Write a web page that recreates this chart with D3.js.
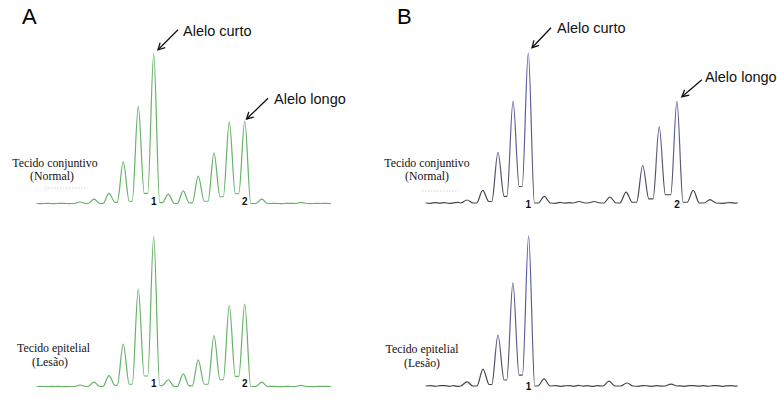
<!DOCTYPE html>
<html><head><meta charset="utf-8">
<script src="https://cdn.jsdelivr.net/npm/d3@7"></script>
<style>body{margin:0;background:#fff}svg{display:block}</style>
</head><body><svg id="c" width="777" height="400"></svg>
<script>
// ================= DATA =================
const panelLabels = ["A", "B"];
const sampleLabels = [["Tecido conjuntivo", "(Normal)"], ["Tecido epitelial", "(Lesão)"]];
const alleleNames = ["Alelo curto", "Alelo longo"];
const alleleNumbers = ["1", "2"];

// trace extent (migration units)
const spanA = [0.2, 19.8];
const spanB = [1.36, 21.6];

// peaks: [position (units), height (% of tallest)]
const peaksA_normal = [[3.07,1],[4.0,2.9],[5.0,6.7],[5.95,27.7],[6.95,65],[7.98,100],[8.95,6.2],[9.95,8.4],[10.95,18.2],[12.0,33.7],[13.02,54.4],[14.05,55],[15.18,2.9],[17.8,0.7]];
const valleysA_normal = [0,0,0.8,1.5,6.7,0.6,0,0.4,1.5,4.5,6.5,0,0];
const peaksA_lesion = [[3.07,1],[4.0,2.9],[5.0,7.3],[5.95,28.3],[6.95,65],[7.98,100],[8.95,4.5],[9.95,8.4],[10.95,17.8],[12.0,34],[13.02,54],[14.05,55],[15.18,2.9],[17.8,0.7]];
const valleysA_lesion = [0,0,0.8,1.5,7,0.6,0,0.4,1.5,4.5,6.8,0,0];

const peaksB_normal = [[4.02,2],[5.04,8.4],[6.03,33.7],[7.01,68],[8.0,100],[9.04,4.4],[11.3,1],[12.27,1],[13.3,4],[14.35,7.3],[15.43,25],[16.5,50.7],[17.65,67.7],[18.71,8.4],[19.8,2.2]];
const valleysB_normal = [0,1,4.4,11,0,0,0,0,0,0.5,2.7,5.5,0.5,0];
const peaksB_lesion = [[4.02,2.7],[5.06,11.3],[6.03,34],[7.0,68.7],[8.02,100],[9.02,4.7],[13.24,3.3],[14.4,2],[17.27,1.3]];
const valleysB_lesion = [0,1,4,7.3,0,0,0,0];

// baseline noise (read approximately), one value every 0.3 units from trace start
const noiseA_normal = [0.1,-0.1,0.1,0,-0.1,0.1,0.1,-0.1,0,0.1,-0.1,0.1,0,0.1,-0.1,0,0.1,0.1,-0.1,0,0.1,-0.1,0.1,0,0.1,-0.1,0,0.1,-0.1,0.1,0,0.1,-0.1,0.1,0,-0.1,0.1,0,0.1,-0.1,0.1,0,-0.1,0.1,0.1,0,-0.1,0.1,0,0.1,-0.1,0.1,0,0.1,-0.1,0,0.1,0.1,-0.1,0,0.1,-0.1,0.1,0,0.1];
const noiseA_lesion = [0,0.1,-0.1,0.1,0,0.1,-0.1,0,0.1,-0.1,0.1,0,0.1,-0.1,0.1,0,0.1,-0.1,0,0.1,0.1,-0.1,0,0.1,-0.1,0.1,0,0.1,-0.1,0,0.1,0.1,-0.1,0,0.1,-0.1,0.1,0,0.1,-0.1,0,0.1,0.1,-0.1,0,0.1,-0.1,0.1,0,0.1,-0.1,0,0.1,0.1,-0.1,0,0.1,-0.1,0.1,0,0.1,-0.1,0,0.1,0.1];
const noiseB_normal = [0.2,-0.2,0.3,-0.1,0.3,-0.3,0.1,0.4,-0.2,0.2,-0.3,0.2,0.5,-0.1,0.3,-0.2,0.1,0.3,-0.2,0.2,-0.3,0.2,0.4,-0.1,0.2,-0.3,0.1,0.3,-0.2,0.4,-0.1,0.2,-0.3,0.2,0.3,-0.2,0.1,0.3,-0.2,0.2,-0.1,0.3,-0.2,0.2,0.3,-0.3,0.1,0.4,-0.2,0.2,-0.1,0.3,-0.2,0.2,0.4,-0.2,0.2,-0.3,0.3,-0.1,0.2,0.4,-0.2,0.3,-0.2,0.1,0.3,-0.1];
const noiseB_lesion = [-0.1,0.3,-0.2,0.2,0.3,-0.2,0.2,-0.3,0.1,0.4,-0.1,0.2,-0.2,0.3,0.1,-0.3,0.3,-0.1,0.2,-0.2,0.3,0.4,-0.2,0.1,-0.3,0.2,0.2,-0.1,0.3,-0.2,0.1,0.3,-0.2,0.4,-0.1,0.2,-0.3,0.2,0.3,-0.2,0.1,0.5,-0.2,0.2,-0.1,0.3,-0.2,0.3,0.1,-0.2,0.3,-0.1,0.2,0.4,-0.2,0.1,-0.2,0.3,0.2,-0.1,0.3,-0.2,0.2,0.3,-0.2,0.1,0.2,-0.1];

// allele calls: [peak position, number label index]
const callsA_normal = [[7.98,0],[14.05,1]];
const callsA_lesion = [[7.98,0],[14.05,1]];
const callsB_normal = [[8.0,0],[17.65,1]];
const callsB_lesion = [[8.02,0]];

// ================= LAYOUT / STYLE =================
const svg = d3.select("#c");
const defs = svg.append("defs");
const HALF = 0.4;       // half base width of a peak (units)
const NOISE_STEP = 0.3;
const PEAK_PX = 150;    // pixel height of 100%

const xA = d3.scaleLinear().domain([0, 20]).range([34, 334]);
const xB = d3.scaleLinear().domain([0, 22]).range([405.1, 405.1 + 22 * 15.4]);

const traces = [
  {peaks: peaksA_normal, valleys: valleysA_normal, noise: noiseA_normal, span: spanA, x: xA, base: 203.5, kind: "A", calls: callsA_normal, numDy: 1.2,
   label: sampleLabels[0], lab: [[55,167],[52,179.5]], dots: [45,87,188], ann: true},
  {peaks: peaksA_lesion, valleys: valleysA_lesion, noise: noiseA_lesion, span: spanA, x: xA, base: 386.5, kind: "A", calls: callsA_lesion, numDy: 0.8,
   label: sampleLabels[1], lab: [[53.5,352],[50,366]], dots: null, ann: false},
  {peaks: peaksB_normal, valleys: valleysB_normal, noise: noiseB_normal, span: spanB, x: xB, base: 203, kind: "B", calls: callsB_normal, numDy: 5,
   label: sampleLabels[0], lab: [[427,167],[427,180]], dots: [422,457,191], ann: true},
  {peaks: peaksB_lesion, valleys: valleysB_lesion, noise: noiseB_lesion, span: spanB, x: xB, base: 386, kind: "B", calls: callsB_lesion, numDy: 4,
   label: sampleLabels[1], lab: [[422,353],[422,367]], dots: null, ann: false}
];

// annotation offsets relative to the peak apex: tip, tail, text
const annLayout = {
  A: [{tip:[4.3,-3.7], tail:[24.3,-23.7], text:[29.3,-17.7]}, {tip:[1.8,-2], tail:[23.3,-22.7], text:[29.3,-16.7]}],
  B: [{tip:[3.7,-5.3], tail:[22.7,-25.3], text:[28.7,-20.3]}, {tip:[5,-4.7], tail:[25,-21.7], text:[28,-19.7]}]
};

// panel letters
svg.append("text").attr("x", 22).attr("y", 24).text(panelLabels[0])
  .attr("font-family", "Liberation Sans, Arial, sans-serif").attr("font-size", 22).attr("fill", "#000");
svg.append("text").attr("x", 397).attr("y", 24).text(panelLabels[1])
  .attr("font-family", "Liberation Sans, Arial, sans-serif").attr("font-size", 22).attr("fill", "#000");

function buildPoints(t) {
  const pts = [];
  const n = t.peaks.length;
  t.peaks.forEach(([p, h], i) => {
    const vl = i > 0 ? t.valleys[i - 1] : 0;
    const vr = i < n - 1 ? t.valleys[i] : 0;
    pts.push([p - HALF, vl], [p, h], [p + HALF, vr]);
  });
  t.noise.forEach((v, j) => {
    const xx = t.span[0] + j * NOISE_STEP;
    if (xx > t.span[1]) return;
    for (let i = 0; i < n; i++) {
      const p = t.peaks[i][0];
      if (Math.abs(xx - p) < HALF + 0.1) return;
      if (i < n - 1 && t.valleys[i] >= 0.5 && xx > p && xx < t.peaks[i + 1][0]) return;
    }
    pts.push([xx, v]);
  });
  pts.push([t.span[0], 0], [t.span[1], 0]);
  pts.sort((a, b) => a[0] - b[0]);
  return pts;
}

traces.forEach((t, k) => {
  const y = d3.scaleLinear().domain([0, 100]).range([t.base, t.base - PEAK_PX]);
  let stroke;
  if (t.kind === "A") {
    stroke = "#66b266";
  } else {
    const gid = "g" + k;
    const g = defs.append("linearGradient").attr("id", gid)
      .attr("gradientUnits", "userSpaceOnUse").attr("x1", 0).attr("x2", 0)
      .attr("y1", t.base - PEAK_PX).attr("y2", t.base);
    g.append("stop").attr("offset", 0).attr("stop-color", "#5a5ab4");
    g.append("stop").attr("offset", 0.7).attr("stop-color", "#60608a");
    g.append("stop").attr("offset", 0.95).attr("stop-color", "#44444f");
    g.append("stop").attr("offset", 1).attr("stop-color", "#44444f");
    stroke = `url(#${gid})`;
  }
  const line = d3.line().x(d => t.x(d[0])).y(d => y(d[1])).curve(d3.curveMonotoneX);
  svg.append("path").datum(buildPoints(t)).attr("d", line)
    .attr("fill", "none").attr("stroke", stroke).attr("stroke-width", 1.2).attr("stroke-linejoin", "round");

  // allele numbers
  t.calls.forEach(([p, ni]) => {
    svg.append("text").attr("x", t.x(p)).attr("y", t.base + t.numDy)
      .attr("text-anchor", "middle").attr("font-family", "Liberation Sans, Arial, sans-serif")
      .attr("font-weight", "bold").attr("font-size", 10).attr("fill", "#111").text(alleleNumbers[ni]);
  });

  // sample label
  t.label.forEach((s, i) => {
    svg.append("text").attr("x", t.lab[i][0]).attr("y", t.lab[i][1]).attr("text-anchor", "middle")
      .attr("font-family", "Liberation Serif, Times New Roman, serif").attr("font-size", 11.8)
      .attr("fill", "#111").text(s);
  });
  if (t.dots) {
    svg.append("line").attr("x1", t.dots[0]).attr("x2", t.dots[1]).attr("y1", t.dots[2]).attr("y2", t.dots[2])
      .attr("stroke", "#c8c8c8").attr("stroke-width", 0.8).attr("stroke-dasharray", "1.5,1.5");
  }

  // allele annotations with arrows
  if (t.ann) {
    t.calls.forEach(([p, ni], ai) => {
      const h = t.peaks.find(d => d[0] === p)[1];
      const ax = t.x(p), ay = y(h);
      const L = annLayout[t.kind][ai];
      const tip = [ax + L.tip[0], ay + L.tip[1]];
      const tail = [ax + L.tail[0], ay + L.tail[1]];
      svg.append("line").attr("x1", tail[0]).attr("y1", tail[1]).attr("x2", tip[0]).attr("y2", tip[1])
        .attr("stroke", "#111").attr("stroke-width", 1.3);
      const ang = Math.atan2(tail[1] - tip[1], tail[0] - tip[0]);
      const arm = 7.5, spread = 0.5;
      const head = [[tip[0] + arm * Math.cos(ang - spread), tip[1] + arm * Math.sin(ang - spread)], tip,
                    [tip[0] + arm * Math.cos(ang + spread), tip[1] + arm * Math.sin(ang + spread)]];
      svg.append("path").attr("d", d3.line()(head)).attr("fill", "none")
        .attr("stroke", "#111").attr("stroke-width", 1.3);
      svg.append("text").attr("x", ax + L.text[0]).attr("y", ay + L.text[1])
        .attr("font-family", "Liberation Sans, Arial, sans-serif").attr("font-size", 14.5)
        .attr("fill", "#111").text(alleleNames[ai]);
    });
  }
});
</script>
</body></html>
